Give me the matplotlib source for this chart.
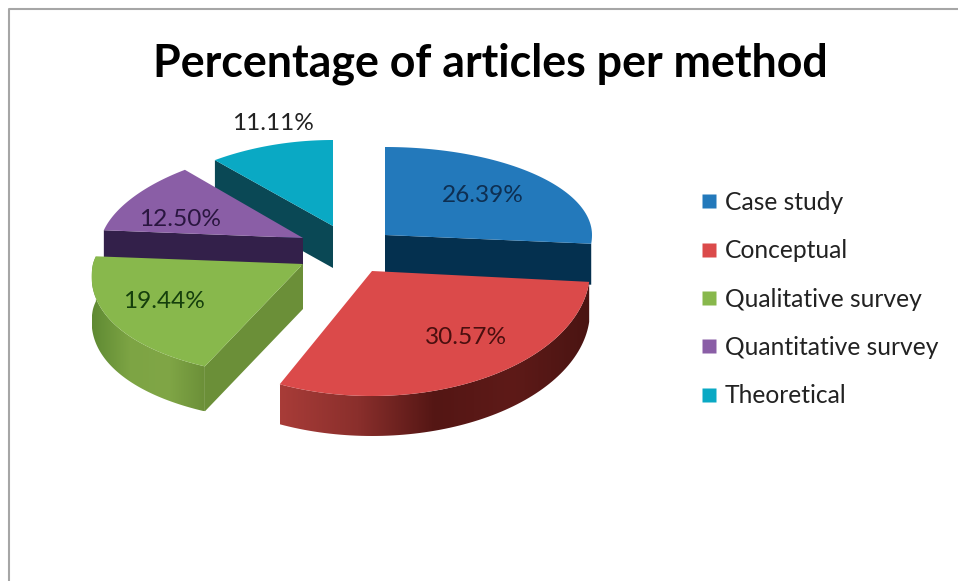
import numpy as np
import matplotlib
matplotlib.use("Agg")
import matplotlib.pyplot as plt
from matplotlib.colors import LinearSegmentedColormap
from matplotlib.lines import Line2D
from matplotlib.patches import Polygon

TITLE = "Percentage of articles per method"
METHODS = ["Case study", "Conceptual", "Qualitative survey", "Quantitative survey", "Theoretical"]
PERCENTS = [26.39, 30.57, 19.44, 12.50, 11.11]
PCT_LABELS = ["26.39%", "30.57%", "19.44%", "12.50%", "11.11%"]

TOP_COLORS = ["#2379bb", "#db4a4a", "#88b84c", "#8a5ea6", "#0aa9c4"]
CUT_COLORS = ["#04304f", "#5a1a18", "#6b8f38", "#33204a", "#0a4855"]
RIM_SHADES = {1: ["#a83c38", "#8a2f2c", "#541614", "#5e1a18", "#4a1412"],
              2: ["#5f8a33", "#7da444", "#80a646", "#6b8f38"]}
TEXT_COLORS = ["#0e2f52", "#4a0f0f", "#153f0c", "#2a1640", "#222222"]

# exploded pie geometry, in pixels of the picture
APEX = [(385, 235), (372, 271), (303, 264), (303, 238), (333, 226)]
RX = [207, 218, 210, 202, 202]
SKEW = [0, 0, 0.115, 0.118, 0.118]
RY_BACK = [88, 88, 88, 89, 86]
RY_FRONT = [100, 125, 113, 90, 90]
DEPTH = [41, 40, 45, 28, 42]
CUT_AT_START = [False, False, True, True, True]
LABEL_POS = [(483, 196), (466, 337), (164, 301), (180, 219), (273, 123)]
DRAW_ORDER = [4, 0, 3, 2, 1]

plt.rcParams["font.family"] = ["Lato", "DejaVu Sans"]

fig = plt.figure(figsize=(9.58, 5.81), dpi=100)
ax = fig.add_axes([0, 0, 1, 1])
ax.axis("off")


def rim_points(i, angles):
    rad = np.radians(angles)
    cos = np.cos(rad)
    ry = np.where(cos > 0, RY_BACK[i], RY_FRONT[i])
    rx = RX[i] * (1 - SKEW[i] * cos)
    return APEX[i][0] + rx * np.sin(rad), APEX[i][1] - ry * cos


def draw_slice(i, start, end):
    apex = np.array(APEX[i], dtype=float)
    down = np.array([0, DEPTH[i]])
    xs, ys = rim_points(i, np.linspace(start, end, 80))

    # rim wall with a left to right shade
    if i in RIM_SHADES:
        wall = np.vstack([np.column_stack([xs, ys]), np.column_stack([xs, ys + DEPTH[i]])[::-1]])
        clip = Polygon(wall, fc="none", ec="none", transform=ax.transData)
        ax.add_patch(clip)
        cmap = LinearSegmentedColormap.from_list("rim", RIM_SHADES[i])
        img = ax.imshow(np.linspace(0, 1, 256).reshape(1, -1), cmap=cmap, aspect="auto",
                        extent=(xs.min(), xs.max(), wall[:, 1].max(), wall[:, 1].min()))
        img.set_clip_path(clip)

    # cut face turned toward the viewer
    if i != 1:
        k = 0 if CUT_AT_START[i] else -1
        edge = np.array([xs[k], ys[k]])
        ax.add_patch(Polygon([apex, edge, edge + down, apex + down], fc=CUT_COLORS[i], ec="none"))

    top = np.vstack([apex, np.column_stack([xs, ys])])
    ax.add_patch(Polygon(top, fc=TOP_COLORS[i], ec="none"))


edges = np.cumsum([0] + PERCENTS) / sum(PERCENTS) * 360
for i in DRAW_ORDER:
    draw_slice(i, edges[i], edges[i + 1])

ax.set_xlim(0, 958)
ax.set_ylim(581, 0)

# chart frame, only top and left are inside the crop
ax.plot([9, 9, 958], [581, 9, 9], color="#a6a6a6", lw=1.5)

for i, lab in enumerate(PCT_LABELS):
    ax.text(LABEL_POS[i][0], LABEL_POS[i][1], lab, ha="center", va="center",
            fontsize=17.6, color=TEXT_COLORS[i])

ax.text(490, 64, TITLE, ha="center", va="center", fontsize=32.2, fontweight="bold", color="black")

handles = [Line2D([], [], ls="none", marker="s", ms=10.5, mfc=c, mec="none") for c in TOP_COLORS]
ax.legend(handles, METHODS, loc="upper left", bbox_to_anchor=(699 / 958, 1 - 191 / 581),
          frameon=False, fontsize=17.7, labelcolor="#222222", handlelength=0.8, numpoints=1,
          handletextpad=0.25, labelspacing=1.03, borderpad=0, borderaxespad=0)

fig.savefig("out.png", dpi=100)
